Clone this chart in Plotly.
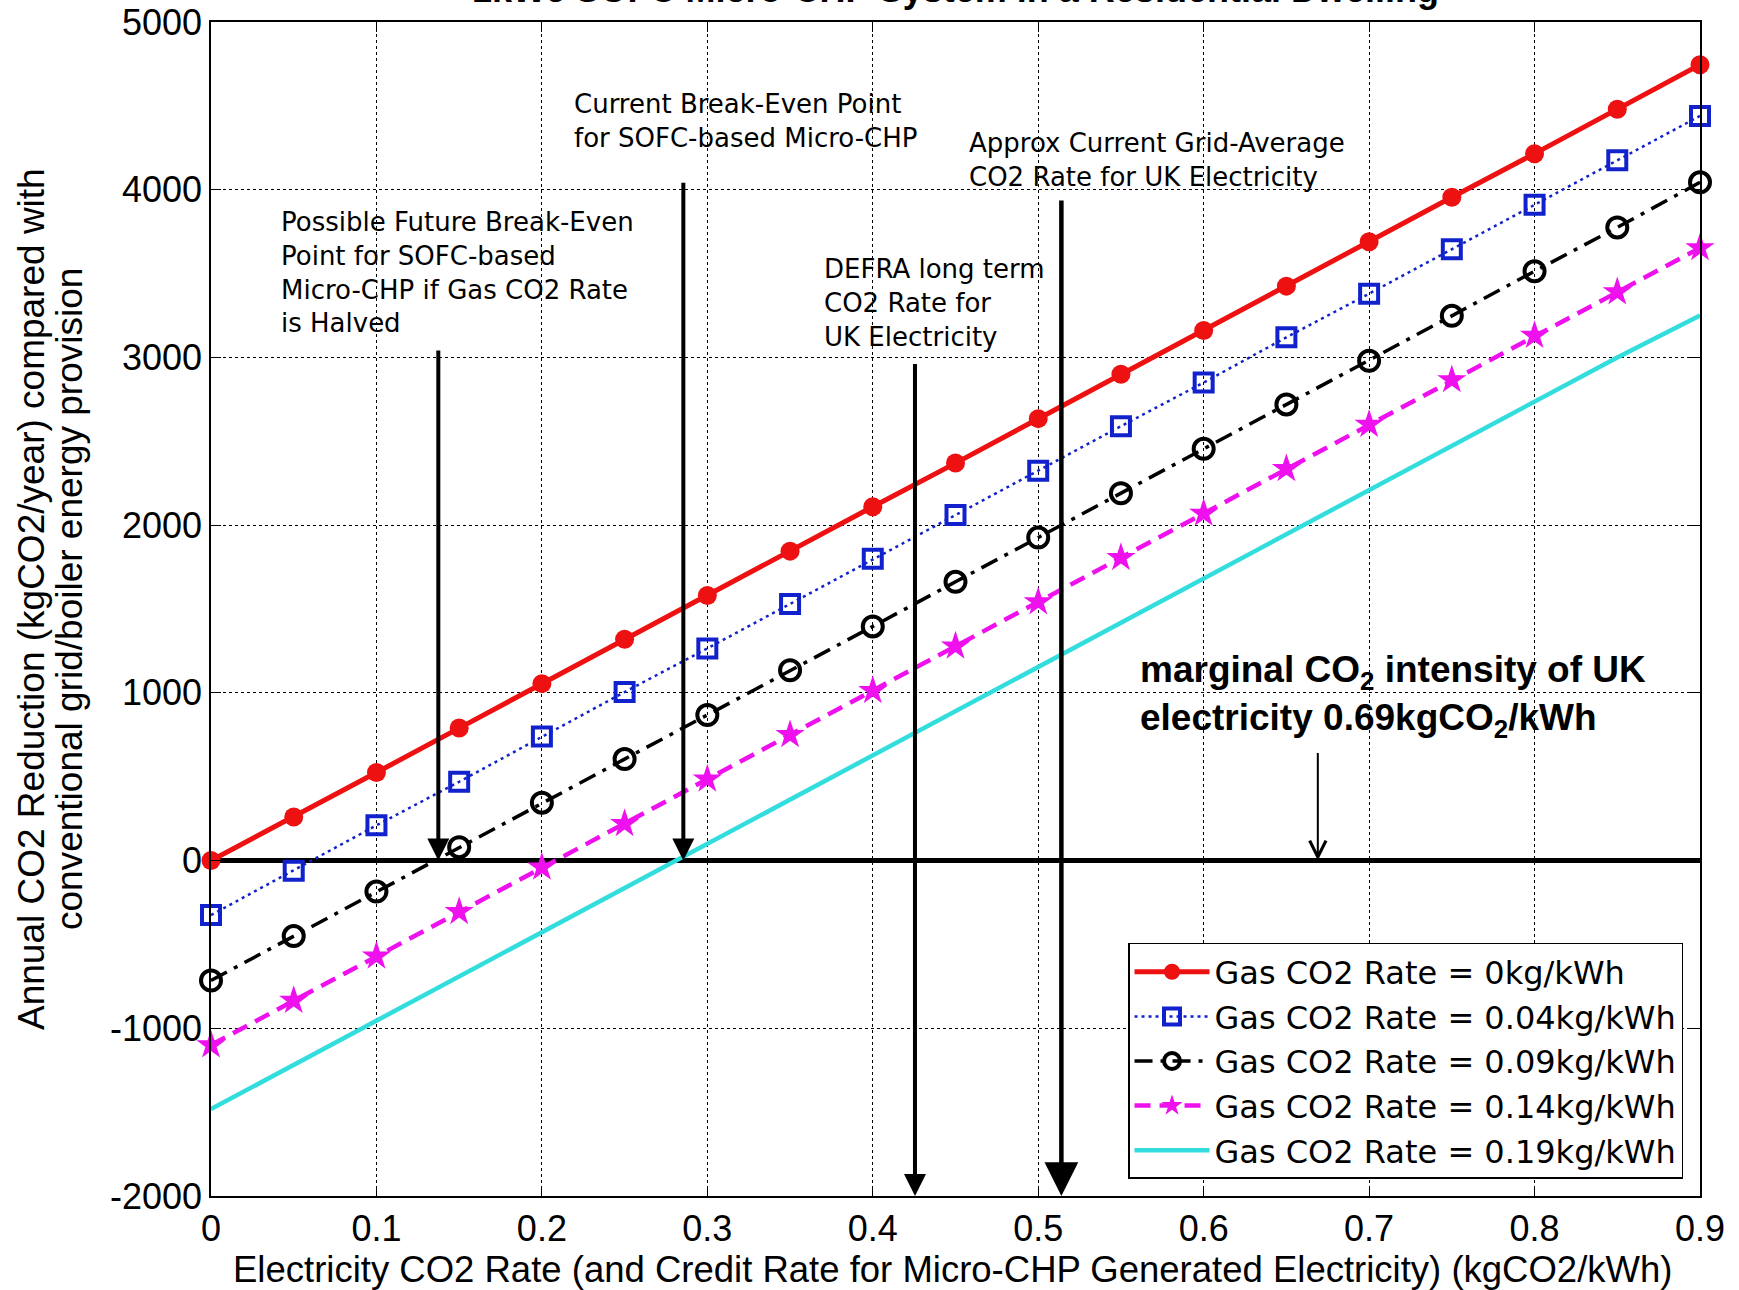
import plotly.graph_objects as go

# ---------------- data ----------------
elec_rate = [0, 0.05, 0.1, 0.15, 0.2, 0.25, 0.3, 0.35, 0.4, 0.45, 0.5,
             0.55, 0.6, 0.65, 0.7, 0.75, 0.8, 0.85, 0.9]

gas_0 = [0, 260, 525, 790, 1055, 1320, 1580, 1845, 2110, 2370, 2635,
         2900, 3160, 3425, 3690, 3955, 4215, 4480, 4745]
gas_004 = [-325, -60, 210, 470, 740, 1005, 1265, 1530, 1800, 2060, 2325,
           2590, 2850, 3120, 3380, 3645, 3910, 4175, 4440]
gas_009 = [-715, -450, -185, 80, 345, 605, 868, 1135, 1396, 1662, 1926,
           2190, 2455, 2720, 2980, 3248, 3514, 3775, 4044]
gas_014 = [-1100, -835, -570, -305, -40, 220, 485, 750, 1013, 1278, 1542,
           1806, 2070, 2336, 2600, 2866, 3130, 3390, 3653]
gas_019 = [-1482, -1218, -955, -690, -428, -165, 100, 365, 630, 892, 1155,
           1420, 1685, 1950, 2212, 2476, 2740, 3000, 3250]

series_names = ["Gas CO2 Rate = 0kg/kWh", "Gas CO2 Rate = 0.04kg/kWh",
                "Gas CO2 Rate = 0.09kg/kWh", "Gas CO2 Rate = 0.14kg/kWh",
                "Gas CO2 Rate = 0.19kg/kWh"]

# arrow markers: (x position, tail value, tip value)
arrow_x = [0.1374, 0.2855, 0.4255, 0.514, 0.669]
arrow_tail = [3050, 4050, 2970, 3945, 650]
arrow_tip = [0, 0, -2000, -2000, 0]

x_ticks = [0, 0.1, 0.2, 0.3, 0.4, 0.5, 0.6, 0.7, 0.8, 0.9]
x_tick_text = ["0", "0.1", "0.2", "0.3", "0.4", "0.5", "0.6", "0.7", "0.8", "0.9"]
y_ticks = [-2000, -1000, 0, 1000, 2000, 3000, 4000, 5000]
y_tick_text = ["-2000", "-1000", "0", "1000", "2000", "3000", "4000", "5000"]

FONT = "Liberation Sans, Arial, sans-serif"
WIDE = "DejaVu Sans, Liberation Sans, sans-serif"

fig = go.Figure()

fig.add_trace(go.Scatter(
    x=elec_rate, y=gas_0, name=series_names[0], mode="lines+markers",
    line=dict(color="#ee1111", width=5), cliponaxis=False,
    marker=dict(symbol="circle", size=19, color="#ee1111")))
fig.add_trace(go.Scatter(
    x=elec_rate, y=gas_004, name=series_names[1], mode="lines+markers",
    line=dict(color="#1122cc", width=2.5, dash="3px,4px"), cliponaxis=False,
    marker=dict(symbol="square-open", size=18, color="#1122cc",
                line=dict(width=4, color="#1122cc"))))
fig.add_trace(go.Scatter(
    x=elec_rate, y=gas_009, name=series_names[2], mode="lines+markers",
    line=dict(color="black", width=3.5, dash="18px,8px,4px,8px"), cliponaxis=False,
    marker=dict(symbol="circle-open", size=20, color="black",
                line=dict(width=4, color="black"))))
fig.add_trace(go.Scatter(
    x=elec_rate, y=gas_014, name=series_names[3], mode="lines+markers",
    line=dict(color="#ee11ee", width=4.5, dash="16px,9px"), cliponaxis=False,
    marker=dict(symbol="star", size=22, color="#ee11ee")))
fig.add_trace(go.Scatter(
    x=elec_rate, y=gas_019, name=series_names[4], mode="lines",
    line=dict(color="#33dddd", width=4.5)))

# arrows
head_styles = [2, 2, 2, 2, 5]
head_sizes = [1.1, 1.1, 1.1, 1.5, 1.6]
widths = [4, 4, 4, 4.5, 2]
for xa, tail, tip, hs, sz, w in zip(arrow_x, arrow_tail, arrow_tip, head_styles, head_sizes, widths):
    fig.add_annotation(x=xa, y=tip, ax=xa, ay=tail, xref="x", yref="y",
                       axref="x", ayref="y", text="", showarrow=True,
                       arrowhead=hs, arrowsize=sz, arrowwidth=w,
                       arrowcolor="black", standoff=0)

note_font = dict(family=WIDE, size=26, color="black")
notes = [
    (0.0415, 3905, "Possible Future Break-Even<br>Point for SOFC-based<br>Micro-CHP if Gas CO2 Rate<br>is Halved"),
    (0.2185, 4605, "Current Break-Even Point<br>for SOFC-based Micro-CHP"),
    (0.4577, 4375, "Approx Current Grid-Average<br>CO2 Rate for UK Electricity"),
    (0.3699, 3620, "DEFRA long term<br>CO2 Rate for<br>UK Electricity"),
]
for nx, ny, txt in notes:
    fig.add_annotation(x=nx, y=ny, xref="x", yref="y", text=txt,
                       showarrow=False, xanchor="left", yanchor="top",
                       align="left", font=note_font, borderpad=0)

fig.add_annotation(x=0.5609, y=1270, xref="x", yref="y",
                   text="<b>marginal CO<sub>2</sub> intensity of UK<br>electricity 0.69kgCO<sub>2</sub>/kWh</b>",
                   showarrow=False, xanchor="left", yanchor="top", align="left",
                   font=dict(family=FONT, size=37, color="black"), borderpad=0)

# title (cut off at the top of the image)
fig.add_annotation(x=0.5, y=1.0094, xref="paper", yref="paper",
                   text="<b>1kWe SOFC Micro-CHP System in a Residential Dwelling</b>",
                   showarrow=False, xanchor="center", yanchor="bottom",
                   font=dict(family=FONT, size=36, color="black"), borderpad=0)

# y-axis title (two lines)
fig.add_annotation(x=-0.1209, y=0.5085, xref="paper", yref="paper",
                   text="Annual CO2 Reduction (kgCO2/year) compared with",
                   textangle=-90, showarrow=False, xanchor="center", yanchor="middle",
                   font=dict(family=FONT, size=37, color="black"))
fig.add_annotation(x=-0.0954, y=0.5085, xref="paper", yref="paper",
                   text="conventional grid/boiler energy provision",
                   textangle=-90, showarrow=False, xanchor="center", yanchor="middle",
                   font=dict(family=FONT, size=37, color="black"))
# x-axis title
fig.add_annotation(x=0.498, y=-0.063, xref="paper", yref="paper",
                   text="Electricity CO2 Rate (and Credit Rate for Micro-CHP Generated Electricity) (kgCO2/kWh)",
                   showarrow=False, xanchor="center", yanchor="middle",
                   font=dict(family=FONT, size=36.5, color="black"))

axis_common = dict(showline=True, linecolor="black", linewidth=1.5, mirror="ticks",
                   ticks="inside", ticklen=10, tickwidth=1.2, tickcolor="black",
                   showgrid=True, gridcolor="black", gridwidth=1, griddash="dot",
                   automargin=False,
                   tickfont=dict(family=FONT, size=36, color="black"))

fig.update_xaxes(range=[0, 0.9], tickvals=x_ticks, ticktext=x_tick_text,
                 zeroline=False, **axis_common)
fig.update_yaxes(range=[-2000, 5000], tickvals=y_ticks, ticktext=y_tick_text,
                 zeroline=True, zerolinecolor="black", zerolinewidth=5,
                 **axis_common)

fig.update_layout(
    width=1739, height=1290,
    margin=dict(l=211, r=39, t=22, b=94),
    paper_bgcolor="white", plot_bgcolor="white",
    font=dict(family=FONT, color="black"),
    legend=dict(x=0.9886, y=0.0145, xanchor="right", yanchor="bottom",
                bgcolor="white", bordercolor="black", borderwidth=1.5,
                font=dict(family=WIDE, size=32, color="black"),
                itemwidth=75, tracegroupgap=0),
    showlegend=True,
)

fig.write_html("out.html")
